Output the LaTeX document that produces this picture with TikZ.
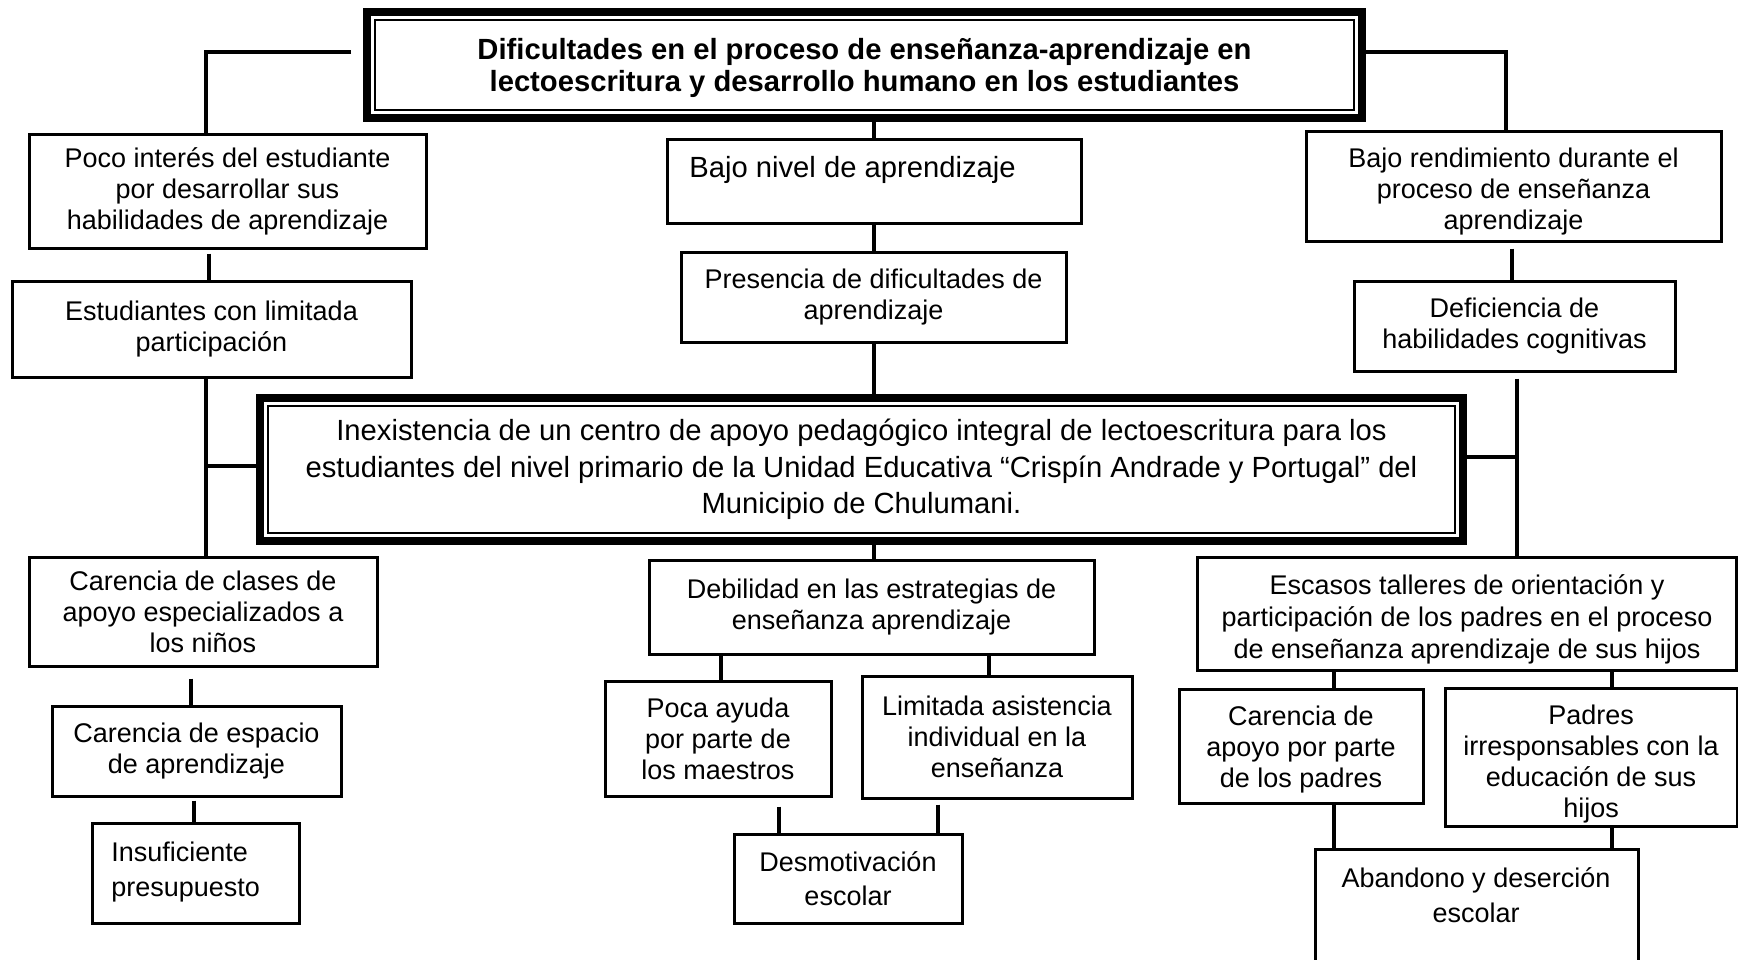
\documentclass[tikz,border=0pt]{standalone}
\usepackage{fontspec}
\setmainfont{Liberation Sans}
\usetikzlibrary{calc}
\newcommand\fsn{\fontsize{13.5}{15.5}\selectfont}
\newcommand\fsb{\fontsize{14.6}{16.4}\selectfont\bfseries}
\newcommand\fsi{\fontsize{14.6}{18.2}\selectfont}
\newcommand\fsw{\fontsize{13.5}{17.2}\selectfont}
\begin{document}
\begin{tikzpicture}[x=0.5pt,y=-0.5pt,
  box/.style={draw,line width=1.5pt,rectangle,inner sep=0pt,align=center,font=\fsn},
  dbl/.style={draw,line width=4pt,rectangle,inner sep=0pt,align=center},
  inner/.style={line width=1pt},
  conn/.style={line width=2pt},
  txt/.style={inner sep=0pt,align=center,font=\fsn}]
\useasboundingbox (0,0) rectangle (1738,959);
\clip (0,0) rectangle (1738,959);

% x / y guide coordinates
\coordinate (xL) at (206,0);
\coordinate (x209) at (209,0);
\coordinate (xR1) at (1506,0);
\coordinate (xC) at (874,0);
\coordinate (x1512) at (1512,0);
\coordinate (x1517) at (1517,0);
\coordinate (x191) at (191,0);
\coordinate (x194) at (194,0);
\coordinate (x721) at (721,0);
\coordinate (x989) at (989,0);
\coordinate (x779) at (779,0);
\coordinate (x938) at (938,0);
\coordinate (x1334) at (1334,0);
\coordinate (x1612) at (1612,0);
\coordinate (yBL) at (0,466);
\coordinate (yBR) at (0,457);

% title
\node[dbl,minimum width=497.5pt,minimum height=53pt] (top) at (864.5,65) {};
\draw[inner] ($(top.south west)+(12,-12)$) rectangle ($(top.north east)+(-12,12)$);
\node[txt,font=\fsb] (topt) at (864.5,68)
  {Dificultades en el proceso de enseñanza-aprendizaje en\\lectoescritura y desarrollo humano en los estudiantes};

% left column
\node[box,minimum width=198.5pt,minimum height=57pt] (poco) at (227.5,191)
  {Poco interés del estudiante\\por desarrollar sus\\habilidades de aprendizaje};
\node[box,minimum width=199.5pt,minimum height=48pt] (estud) at (211.5,329)
  {Estudiantes con limitada\\participación};

% centre column
\node[box,minimum width=207pt,minimum height=42pt] (bajo) at (874,181) {};
\node[txt,anchor=west,font=\fsi] (bajot) at (689,170) {Bajo nivel de aprendizaje};
\node[box,minimum width=192.5pt,minimum height=45pt] (pres) at (873.5,297)
  {Presencia de dificultades de\\aprendizaje};

% right column
\node[box,minimum width=207.5pt,minimum height=55pt] (rend) at (1513.5,186) {};
\node[txt] (rendt) at (1513.5,191.5)
  {Bajo rendimiento durante el\\proceso de enseñanza\\aprendizaje};
\node[box,minimum width=160.5pt,minimum height=45pt] (defi) at (1514.5,326)
  {Deficiencia de\\habilidades cognitivas};

% central problem
\node[dbl,minimum width=601.5pt,minimum height=71.5pt,font=\fsi] (inex) at (861.5,469.5)
  {Inexistencia de un centro de apoyo pedagógico integral de lectoescritura para los\\estudiantes del nivel primario de la Unidad Educativa “Crispín Andrade y Portugal” del\\Municipio de Chulumani.};
\draw[inner] ($(inex.south west)+(12,-12)$) rectangle ($(inex.north east)+(-12,12)$);

% lower left
\node[box,minimum width=174pt,minimum height=54.5pt] (clases) at (203,611.5)
  {Carencia de clases de\\apoyo especializados a\\los niños};
\node[box,minimum width=144.5pt,minimum height=45pt] (esp) at (196.5,751)
  {Carencia de espacio\\de aprendizaje};
\node[box,minimum width=103.5pt,minimum height=50pt] (insuf) at (195.5,873) {};
\node[txt,anchor=west,align=left,font=\fontsize{13.5}{17.5}\selectfont] (insuft) at (111,872)
  {Insuficiente\\presupuesto};

% lower centre
\node[box,minimum width=222.5pt,minimum height=47pt] (debil) at (871.5,607)
  {Debilidad en las estrategias de\\enseñanza aprendizaje};
\node[box,minimum width=113pt,minimum height=57.5pt] (poca) at (718,738.5)
  {Poca ayuda\\por parte de\\los maestros};
\node[box,minimum width=135pt,minimum height=61pt] (limit) at (997,737)
  {Limitada asistencia\\individual en la\\enseñanza};
\node[box,minimum width=114pt,minimum height=44.5pt,font=\fsw] (desmo) at (848,878.5)
  {Desmotivación\\escolar};

% lower right
\node[box,minimum width=269.5pt,minimum height=56.5pt] (esc) at (1467,613.5) {};
\node[txt,font=\fontsize{13.5}{16}\selectfont] (esct) at (1467,619.5)
  {Escasos talleres de orientación y\\participación de los padres en el proceso\\de enseñanza aprendizaje de sus hijos};
\node[box,minimum width=122pt,minimum height=57pt] (apoyo) at (1301,746) {};
\node[txt] (apoyot) at (1301,750)
  {Carencia de\\apoyo por parte\\de los padres};
\node[box,minimum width=146pt,minimum height=69pt] (padres) at (1591,757) {};
\node[txt] (padrest) at (1591,764)
  {Padres\\irresponsables con la\\educación de sus\\hijos};
\node[box,minimum width=161.5pt,minimum height=58pt] (aband) at (1476.5,907) {};
\node[txt,font=\fsw] (abandt) at (1476,895) {Abandono y deserción\\escolar};

% connectors
\draw[conn] ($(top.west)+(-12,-13)$) -| (poco.north -| xL);
\draw[conn] ($(top.east)+(0,-13)$) -| (rend.north -| xR1);
\draw[conn] (top.south -| xC) -- (bajo.north -| xC);
\draw[conn] (bajo.south -| xC) -- (pres.north -| xC);
\draw[conn] (pres.south -| xC) -- (inex.north -| xC);
\draw[conn,shorten <=2pt] (poco.south -| x209) -- (estud.north -| x209);
\draw[conn] (estud.south -| xL) -- (clases.north -| xL);
\draw[conn] (inex.west |- yBL) -- (xL |- yBL);
\draw[conn,shorten <=3pt] (rend.south -| x1512) -- (defi.north -| x1512);
\draw[conn,shorten <=3pt] (defi.south -| x1517) -- (esc.north -| x1517);
\draw[conn] (inex.east |- yBR) -- (x1517 |- yBR);
\draw[conn] (inex.south -| xC) -- (debil.north -| xC);
\draw[conn,shorten <=5.5pt] (clases.south -| x191) -- (esp.north -| x191);
\draw[conn,shorten <=1.5pt] (esp.south -| x194) -- (insuf.north -| x194);
\draw[conn] (debil.south -| x721) -- (poca.north -| x721);
\draw[conn] (debil.south -| x989) -- (limit.north -| x989);
\draw[conn,shorten <=4.5pt] (poca.south -| x779) -- (desmo.north -| x779);
\draw[conn,shorten <=2.5pt] (limit.south -| x938) -- (desmo.north -| x938);
\draw[conn] (esc.south -| x1334) -- (apoyo.north -| x1334);
\draw[conn] (esc.south -| x1612) -- (padres.north -| x1612);
\draw[conn] (apoyo.south -| x1334) -- (aband.north -| x1334);
\draw[conn] (padres.south -| x1612) -- (aband.north -| x1612);
\end{tikzpicture}
\end{document}
